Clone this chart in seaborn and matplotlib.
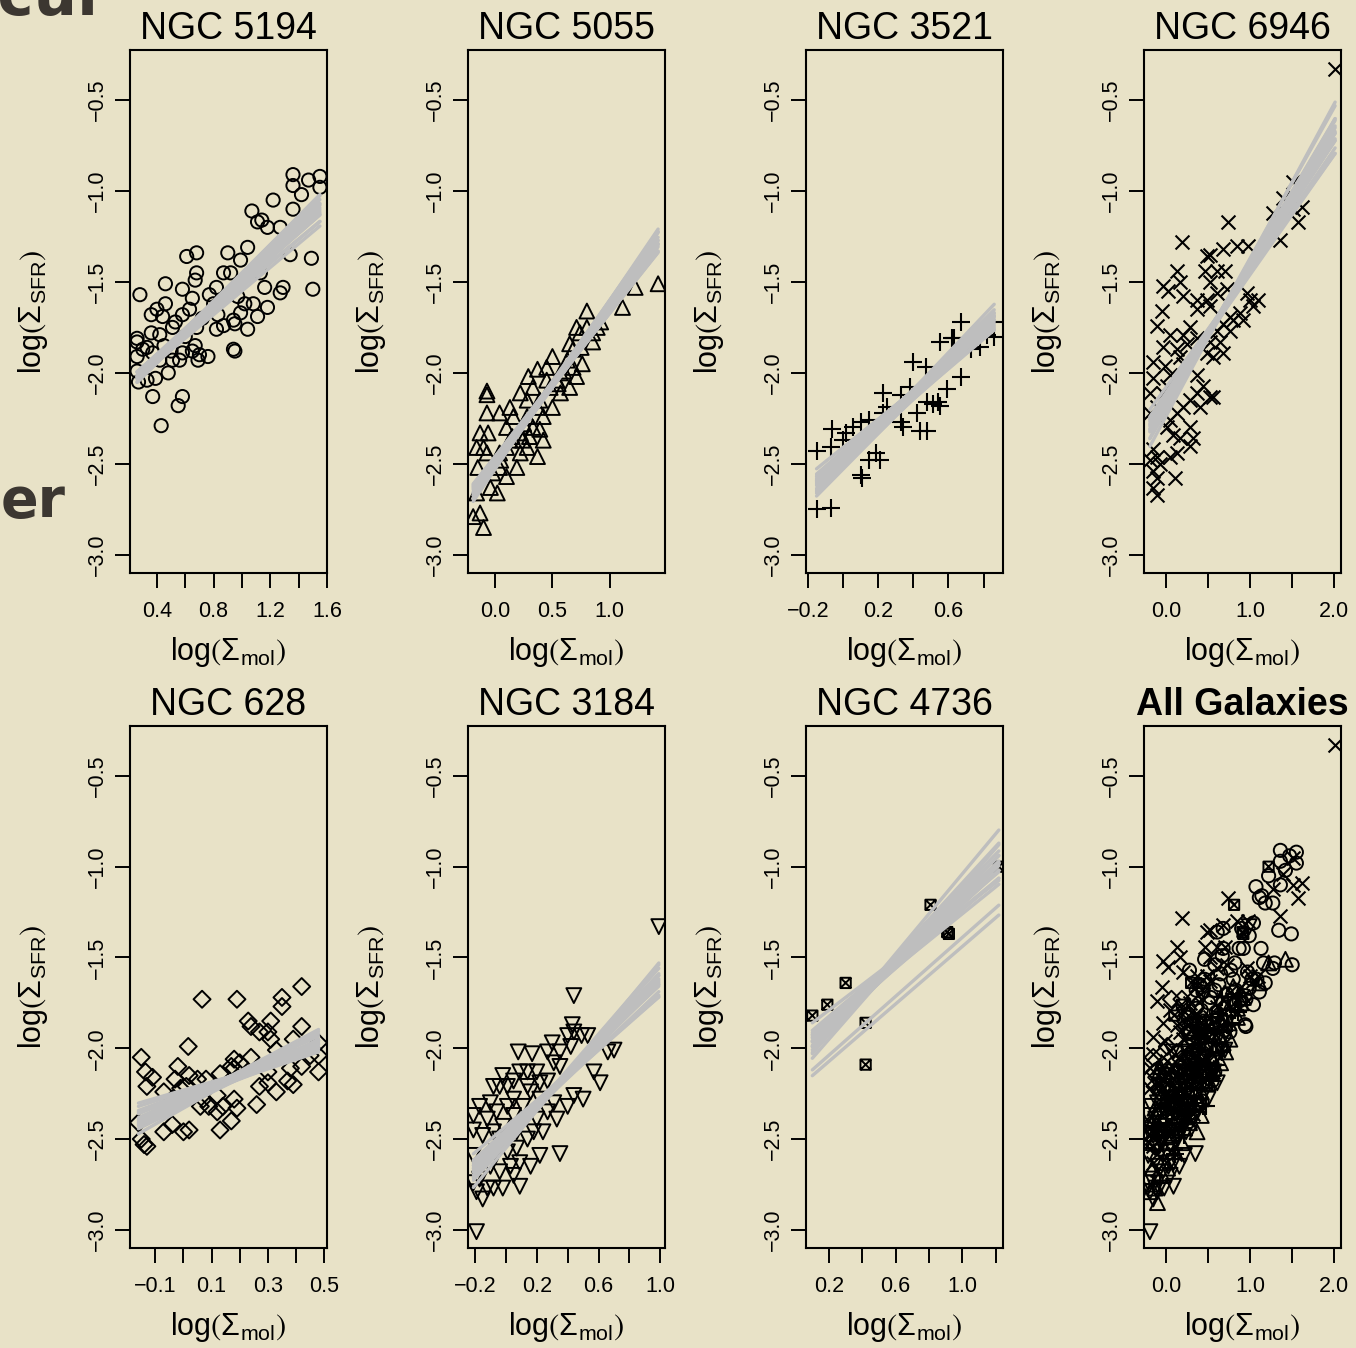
import numpy as np
import pandas as pd
import matplotlib
matplotlib.use("Agg")
import matplotlib.pyplot as plt
import seaborn as sns
from matplotlib.path import Path

# ---------------- data ----------------
titles = ["NGC 5194", "NGC 5055", "NGC 3521", "NGC 6946",
          "NGC 628", "NGC 3184", "NGC 4736", "All Galaxies"]

ngc5194 = [(1.36,-0.91),(1.55,-0.92),(1.47,-0.94),(1.36,-0.97),(1.55,-0.98),(1.42,-1.02),(1.22,-1.05),
           (1.07,-1.11),(1.36,-1.10),(1.11,-1.17),(1.14,-1.16),(1.18,-1.20),(1.27,-1.20),(1.34,-1.35),
           (1.49,-1.37),(1.04,-1.31),(0.90,-1.34),(0.99,-1.38),(0.68,-1.34),(0.61,-1.36),(0.46,-1.51),
           (0.68,-1.45),(0.67,-1.49),(0.58,-1.54),(0.28,-1.57),(0.46,-1.62),(0.40,-1.65),(0.36,-1.68),
           (0.44,-1.69),(0.65,-1.59),(0.63,-1.65),(0.58,-1.68),(0.53,-1.72),(0.77,-1.57),(0.82,-1.53),
           (0.87,-1.45),(0.92,-1.45),(0.97,-1.58),(1.02,-1.62),(1.08,-1.62),(0.99,-1.67),(0.94,-1.71),
           (0.95,-1.73),(1.04,-1.76),(0.82,-1.76),(0.87,-1.74),(0.83,-1.68),(1.16,-1.53),(1.29,-1.53),
           (1.27,-1.56),(1.18,-1.64),(1.11,-1.69),(1.50,-1.54),(1.13,-1.45),(0.26,-1.81),(0.36,-1.78),
           (0.42,-1.79),(0.68,-1.75),(0.51,-1.75),(0.26,-1.83),(0.33,-1.86),(0.26,-1.91),(0.67,-1.85),
           (0.65,-1.88),(0.70,-1.90),(0.76,-1.91),(0.69,-1.93),(0.58,-1.89),(0.51,-1.93),(0.56,-1.93),
           (0.94,-1.87),(0.95,-1.88),(0.48,-2.00),(0.39,-2.03),(0.26,-1.99),(0.27,-2.05),(0.33,-2.04),
           (0.37,-2.13),(0.58,-2.13),(0.55,-2.18),(0.43,-2.29),(0.42,-1.93),(0.37,-1.89),(0.30,-1.87),
           (0.60,-1.80),(0.72,-1.70),(0.80,-1.62),(0.45,-1.85),(0.50,-1.88)]

ngc5055 = [(1.42,-1.51),(1.22,-1.53),(1.11,-1.64),(0.80,-1.66),(0.71,-1.75),(0.74,-1.78),(0.85,-1.83),
           (0.65,-1.84),(0.76,-1.95),(0.68,-1.97),(0.50,-1.91),(0.45,-1.97),(0.37,-1.98),(0.29,-2.02),
           (0.71,-2.02),(0.65,-2.08),(0.57,-2.11),(0.50,-2.19),(0.42,-2.24),(0.39,-2.31),(0.37,-2.46),
           (0.28,-2.41),(0.22,-2.44),(0.22,-2.11),(0.13,-2.19),(0.04,-2.22),(0.16,-2.24),(0.10,-2.30),
           (-0.07,-2.10),(-0.06,-2.33),(-0.16,-2.41),(-0.10,-2.41),(-0.15,-2.52),(0.04,-2.52),(0.10,-2.57),
           (-0.04,-2.63),(0.02,-2.66),(-0.16,-2.66),(-0.13,-2.77),(-0.19,-2.79),(-0.10,-2.85),(0.19,-2.52),
           (0.24,-2.37),(0.39,-2.15),(0.48,-2.08),(0.57,-2.00),(0.63,-1.93),(0.54,-2.04),(0.45,-2.04),
           (0.33,-2.08),(0.37,-2.19),(0.28,-2.24),(0.22,-2.33),(0.13,-2.37),(0.04,-2.44),(-0.02,-2.55),
           (0.10,-2.41),(0.33,-2.30),(0.42,-2.37),(0.30,-2.35),(0.28,-2.15),(0.68,-1.87),(0.80,-1.75),
           (0.89,-1.75),(0.85,-1.78),(-0.07,-2.22),(-0.13,-2.33),(-0.07,-2.44),(0.55,-2.06),(0.60,-1.99),
           (0.25,-2.28),(0.15,-2.35),(0.05,-2.48),(0.75,-1.86),(0.92,-1.72),(-0.07,-2.12)]

ngc3521 = [(0.67,-1.72),(0.55,-1.83),(0.62,-1.81),(0.40,-1.94),(0.47,-1.97),(0.67,-2.02),(0.59,-2.09),
           (0.54,-2.16),(0.51,-2.17),(0.55,-2.18),(0.48,-2.16),(0.42,-2.22),(0.48,-2.32),(0.44,-2.32),
           (0.34,-2.30),(0.33,-2.27),(0.38,-2.08),(0.23,-2.11),(0.25,-2.19),(0.23,-2.22),(0.15,-2.26),
           (0.10,-2.27),(0.06,-2.30),(0.02,-2.33),(-0.06,-2.31),(0.00,-2.37),(-0.07,-2.41),(-0.15,-2.43),
           (0.19,-2.44),(0.15,-2.48),(0.21,-2.48),(0.10,-2.56),(0.11,-2.58),(-0.07,-2.74),(-0.15,-2.75),
           (0.33,-2.12),(0.63,-1.81),(0.73,-1.87),(0.78,-1.86),(0.82,-1.79),(0.86,-1.72),(0.86,-1.80)]

ngc6946 = [(2.01,-0.33),(0.74,-1.17),(1.57,-1.17),(1.62,-1.09),(1.51,-0.95),(1.36,-1.27),(0.19,-1.28),
           (0.13,-1.44),(0.17,-1.50),(-0.04,-1.52),(0.02,-1.55),(0.20,-1.58),(-0.05,-1.66),(-0.11,-1.74),
           (0.05,-1.79),(-0.04,-1.86),(-0.15,-1.94),(-0.01,-1.96),(-0.15,-2.03),(-0.19,-2.11),(-0.11,-2.19),
           (-0.19,-2.22),(0.49,-1.36),(0.52,-1.35),(0.68,-1.32),(0.85,-1.30),(0.98,-1.30),(0.46,-1.44),
           (0.61,-1.44),(0.70,-1.44),(0.52,-1.50),(0.37,-1.60),(0.49,-1.60),(0.61,-1.56),(0.73,-1.54),
           (0.37,-1.65),(0.52,-1.63),(0.96,-1.56),(1.00,-1.60),(1.10,-1.60),(1.04,-1.63),(0.92,-1.71),
           (0.76,-1.69),(0.68,-1.73),(0.61,-1.77),(0.52,-1.83),(0.64,-1.83),(0.49,-1.89),(0.56,-1.91),
           (0.68,-1.89),(0.37,-1.81),(0.29,-1.75),(0.20,-1.79),(0.25,-1.84),(0.13,-1.87),(0.17,-1.91),
           (0.20,-1.95),(0.05,-2.01),(0.01,-2.07),(-0.04,-2.11),(0.37,-2.01),(0.44,-2.07),(0.37,-2.11),
           (0.52,-2.13),(0.29,-2.15),(0.20,-2.19),(0.13,-2.22),(0.05,-2.26),(0.01,-2.30),(0.08,-2.34),
           (0.17,-2.36),(0.29,-2.30),(0.32,-2.36),(0.29,-2.40),(0.13,-2.44),(0.05,-2.46),(-0.15,-2.42),
           (-0.11,-2.46),(-0.19,-2.48),(-0.07,-2.50),(-0.15,-2.54),(-0.11,-2.58),(0.11,-2.58),(-0.15,-2.63),
           (-0.11,-2.67),(0.56,-2.13),(0.40,-2.19),(0.88,-1.67),(0.80,-1.71),(0.76,-1.77),(1.39,-1.04),
           (1.27,-1.12),(1.51,-1.10)]

ngc628 = [(0.42,-1.66),(0.066,-1.73),(0.19,-1.73),(0.35,-1.72),(0.35,-1.77),(0.23,-1.85),(0.24,-1.88),
          (0.31,-1.85),(0.30,-1.91),(0.27,-1.91),(0.31,-1.95),(0.42,-1.88),(0.017,-1.99),(-0.15,-2.05),
          (0.33,-2.01),(0.39,-1.95),(0.48,-1.97),(0.48,-2.04),(0.45,-2.04),(0.18,-2.06),(0.20,-2.08),
          (0.24,-2.05),(0.17,-2.10),(-0.02,-2.10),(-0.135,-2.13),(-0.11,-2.16),(-0.13,-2.21),(-0.03,-2.17),
          (0.02,-2.15),(0.05,-2.17),(0.08,-2.17),(0.13,-2.14),(0.01,-2.21),(-0.01,-2.22),(-0.07,-2.24),
          (-0.04,-2.28),(0.07,-2.28),(0.09,-2.32),(0.14,-2.32),(0.12,-2.35),(0.18,-2.28),(0.19,-2.33),
          (0.17,-2.40),(0.13,-2.45),(0.26,-2.31),(0.27,-2.21),(0.30,-2.19),(0.33,-2.24),(0.37,-2.18),
          (0.39,-2.20),(0.42,-2.10),(0.48,-2.13),(0.30,-2.13),(-0.07,-2.46),(-0.04,-2.42),(0.00,-2.46),
          (0.02,-2.45),(-0.16,-2.41),(-0.15,-2.50),(-0.13,-2.54),(-0.14,-2.53),(0.06,-2.32),(0.12,-2.26),
          (0.38,-2.11),(0.18,-2.11)]

ngc3184 = [(0.99,-1.33),(0.44,-1.71),(0.43,-1.87),(0.44,-1.91),(0.40,-1.93),(0.49,-1.93),(0.53,-1.93),
           (0.70,-2.01),(0.66,-2.02),(0.30,-1.97),(0.27,-2.02),(0.17,-2.03),(0.08,-2.02),(0.35,-2.02),
           (0.42,-1.99),(0.31,-2.08),(0.35,-2.10),(0.20,-2.13),(0.14,-2.13),(0.09,-2.13),(-0.02,-2.15),
           (-0.04,-2.21),(0.01,-2.21),(0.05,-2.18),(0.14,-2.21),(0.22,-2.19),(0.27,-2.18),(0.57,-2.13),
           (0.61,-2.19),(0.50,-2.28),(0.44,-2.26),(0.40,-2.32),(0.33,-2.39),(0.24,-2.46),(0.35,-2.58),
           (0.22,-2.59),(0.16,-2.65),(0.09,-2.76),(0.05,-2.70),(-0.02,-2.77),(-0.08,-2.77),(-0.15,-2.83),
           (-0.19,-2.79),(-0.21,-2.74),(-0.19,-3.01),(-0.21,-2.37),(-0.21,-2.45),(-0.17,-2.32),(-0.10,-2.30),
           (-0.06,-2.35),(-0.12,-2.39),(-0.21,-2.59),(-0.15,-2.48),(-0.08,-2.46),(-0.02,-2.43),(0.05,-2.37),
           (0.01,-2.32),(0.05,-2.28),(0.11,-2.32),(-0.06,-2.57),(0.01,-2.57),(0.07,-2.55),(0.14,-2.50),
           (0.18,-2.46),(0.27,-2.35),(0.20,-2.39),(0.31,-2.30),(-0.10,-2.65),(-0.04,-2.68),(-0.17,-2.72),
           (-0.12,-2.77),(0.03,-2.65),(0.09,-2.63),(0.07,-2.46),(-0.04,-2.50),(0.22,-2.28),(0.16,-2.24),
           (-0.08,-2.21)]

ngc4736 = [(0.10,-1.82),(0.19,-1.76),(0.30,-1.64),(0.42,-1.86),(0.42,-2.09),(0.81,-1.21),
           (0.91,-1.36),(0.92,-1.37),(1.22,-1.00)]

# posterior samples of the fitted relation: slopes and intercepts
fit_slopes = {
    "NGC 5194": [0.64,0.65,0.66,0.67,0.68,0.69,0.70,0.71,0.72,0.73,0.74,0.75,0.76,0.77,0.78,0.80],
    "NGC 5055": [0.79,0.80,0.81,0.82,0.83,0.84,0.85,0.86,0.87,0.88,0.89,0.90,0.91,0.93],
    "NGC 3521": [0.78,0.80,0.82,0.84,0.85,0.86,0.87,0.88,0.90,0.91,0.92,0.94,0.95,0.96,0.98,1.02],
    "NGC 6946": [0.64,0.66,0.68,0.69,0.70,0.71,0.72,0.73,0.74,0.75,0.76,0.77,0.78,0.80,0.83,0.86],
    "NGC 628":  [0.45,0.50,0.52,0.56,0.58,0.60,0.63,0.65,0.67,0.70,0.72,0.73,0.75,0.77,0.82,0.88],
    "NGC 3184": [0.72,0.75,0.77,0.80,0.81,0.83,0.84,0.86,0.87,0.89,0.90,0.91,0.94,0.96,0.98,1.03],
    "NGC 4736": [0.70,0.74,0.76,0.78,0.80,0.82,0.84,0.86,0.87,0.88,0.89,0.91,0.92,0.94,0.97,1.00,1.05,1.10,0.81,0.79],
}
fit_intercepts = {
    "NGC 5194": [-2.16,-2.20,-2.19,-2.17,-2.17,-2.20,-2.21,-2.18,-2.22,-2.20,-2.24,-2.21,-2.25,-2.22,-2.23,-2.26],
    "NGC 5055": [-2.46,-2.47,-2.48,-2.46,-2.47,-2.50,-2.48,-2.51,-2.49,-2.52,-2.49,-2.50,-2.52,-2.53],
    "NGC 3521": [-2.41,-2.45,-2.47,-2.43,-2.44,-2.49,-2.46,-2.45,-2.50,-2.47,-2.46,-2.52,-2.47,-2.50,-2.53,-2.50],
    "NGC 6946": [-2.08,-2.12,-2.13,-2.11,-2.12,-2.15,-2.13,-2.14,-2.17,-2.15,-2.18,-2.16,-2.17,-2.21,-2.20,-2.24],
    "NGC 628":  [-2.23,-2.24,-2.27,-2.26,-2.25,-2.29,-2.26,-2.29,-2.30,-2.27,-2.30,-2.31,-2.28,-2.32,-2.29,-2.33],
    "NGC 3184": [-2.43,-2.46,-2.47,-2.45,-2.49,-2.47,-2.47,-2.50,-2.48,-2.51,-2.49,-2.49,-2.53,-2.51,-2.51,-2.55],
    "NGC 4736": [-1.93,-2.00,-1.99,-1.98,-2.04,-2.02,-2.01,-2.07,-2.03,-2.05,-2.08,-2.05,-2.10,-2.06,-2.12,-2.09,-2.16,-2.14,-2.20,-2.23],
}

# axis ticks (R style: some tick labels dropped)
x_ticks = [
    [0.4,0.6,0.8,1.0,1.2,1.4,1.6],
    [0.0,0.5,1.0],
    [-0.2,0.0,0.2,0.4,0.6,0.8],
    [0.0,0.5,1.0,1.5,2.0],
    [-0.1,0.0,0.1,0.2,0.3,0.4,0.5],
    [-0.2,0.0,0.2,0.4,0.6,0.8,1.0],
    [0.2,0.4,0.6,0.8,1.0,1.2],
    [0.0,0.5,1.0,1.5,2.0],
]
x_ticklabels = [
    ["0.4","","0.8","","1.2","","1.6"],
    ["0.0","0.5","1.0"],
    ["\u22120.2","","0.2","","0.6",""],
    ["0.0","","1.0","","2.0"],
    ["\u22120.1","","0.1","","0.3","","0.5"],
    ["\u22120.2","","0.2","","0.6","","1.0"],
    ["0.2","","0.6","","1.0",""],
    ["0.0","","1.0","","2.0"],
]
y_ticks = [-3.0,-2.5,-2.0,-1.5,-1.0,-0.5]
y_ticklabels = ["\u22123.0","\u22122.5","\u22122.0","\u22121.5","\u22121.0","\u22120.5"]
x_limits = [(0.21,1.60),(-0.235,1.48),(-0.21,0.91),(-0.26,2.08),
            (-0.19,0.51),(-0.245,1.03),(0.062,1.245),(-0.26,2.08)]
y_limits = (-3.10,-0.225)

# ---------------- style ----------------
sns.set_theme(style="white")
plt.rcParams["font.family"] = ["Liberation Sans", "DejaVu Sans"]
plt.rcParams["text.color"] = "black"
plt.rcParams["axes.labelcolor"] = "black"
plt.rcParams["xtick.color"] = "black"
plt.rcParams["ytick.color"] = "black"
plt.rcParams["mathtext.fontset"] = "custom"
plt.rcParams["mathtext.rm"] = "Liberation Sans"
plt.rcParams["mathtext.it"] = "Liberation Sans:italic"
plt.rcParams["mathtext.bf"] = "Liberation Sans:bold"
plt.rcParams["mathtext.fallback"] = "stixsans"

BG = "#E8E2C7"
W, H = 1356, 1348
fig = plt.figure(figsize=(W/100, H/100), dpi=100, facecolor=BG)

# fragments of slide text at the left edge
fig.text(108/W, 1-15/H, "scur", ha="right", va="baseline", fontsize=44,
         fontweight="bold", family="DejaVu Sans", color="#3c3731")
fig.text(1/W, 1-517/H, "er", ha="left", va="baseline", fontsize=40,
         fontweight="bold", family="DejaVu Sans", color="#3c3731")

col_left = [130, 468, 806, 1144]
row_top = [50, 726]
row_h = [523, 522]
box_w = 197

sq_x = Path([(-1,-1),(1,-1),(1,1),(-1,1),(-1,-1),(-1,-1),(1,1),(-1,1),(1,-1)],
            [Path.MOVETO,Path.LINETO,Path.LINETO,Path.LINETO,Path.CLOSEPOLY,
             Path.MOVETO,Path.LINETO,Path.MOVETO,Path.LINETO])

datasets = [ngc5194, ngc5055, ngc3521, ngc6946, ngc628, ngc3184, ngc4736]
markers = [("o", 90, True), ("^", 115, True), ("+", 150, False), ("x", 100, False),
           ("D", 75, True), ("v", 115, True), (sq_x, 55, True)]


def draw_points(ax, pts, mk):
    m, s, hollow = mk
    arr = np.array(pts)
    df = pd.DataFrame({"x": arr[:, 0], "y": arr[:, 1]})
    if hollow:
        sns.scatterplot(data=df, x="x", y="y", marker=m, s=s, facecolor="none",
                        edgecolor="black", linewidth=1.4, ax=ax, legend=False, zorder=3)
    else:
        sns.scatterplot(data=df, x="x", y="y", marker=m, s=s, color="black",
                        linewidth=1.5, ax=ax, legend=False, zorder=3)
    return df


xlab = r"$\mathrm{log}\left(\Sigma_{\mathrm{mol}}\right)$"
ylab = r"$\mathrm{log}\left(\Sigma_{\mathrm{SFR}}\right)$"

for i, title in enumerate(titles):
    r, c = divmod(i, 4)
    ax = fig.add_axes([col_left[c]/W, 1-(row_top[r]+row_h[r])/H, box_w/W, row_h[r]/H])
    ax.set_facecolor("none")
    if i < 7:
        df = draw_points(ax, datasets[i], markers[i])
        xs = [df["x"].min(), df["x"].max()]
        rows = []
        for k, (b, a) in enumerate(zip(fit_slopes[title], fit_intercepts[title])):
            for xv in xs:
                rows.append({"x": xv, "y": a + b*xv, "draw": k})
        ldf = pd.DataFrame(rows)
        sns.lineplot(data=ldf, x="x", y="y", units="draw", estimator=None, color="#BEBEBE",
                     linewidth=2.4, ax=ax, legend=False, zorder=4)
    else:
        for pts, mk in zip(datasets, markers):
            draw_points(ax, pts, mk)

    ax.set_xlim(*x_limits[i])
    ax.set_ylim(*y_limits)
    ax.set_xticks(x_ticks[i])
    ax.set_xticklabels(x_ticklabels[i], fontsize=15.5)
    ax.set_yticks(y_ticks)
    ax.set_yticklabels(y_ticklabels, fontsize=15.5, rotation=90, va="center")
    ax.tick_params(axis="both", which="major", direction="out", length=11, width=1.4,
                   color="black", labelcolor="black", left=True, bottom=True)
    ax.tick_params(axis="x", pad=9)
    ax.tick_params(axis="y", pad=5)
    for sp in ax.spines.values():
        sp.set_visible(True)
        sp.set_color("black")
        sp.set_linewidth(1.5)
    ax.grid(False)
    ax.set_xlabel(xlab, fontsize=22, va="center")
    ax.set_ylabel(ylab, fontsize=22, va="center")
    ax.xaxis.set_label_coords(0.5, -79/row_h[r])
    ax.yaxis.set_label_coords(-97/box_w, 0.5)
    ax.set_title(title, fontsize=27, pad=8, color="black",
                 fontweight="bold" if i == 7 else "normal")

fig.savefig("out.png", dpi=100, facecolor=BG)
